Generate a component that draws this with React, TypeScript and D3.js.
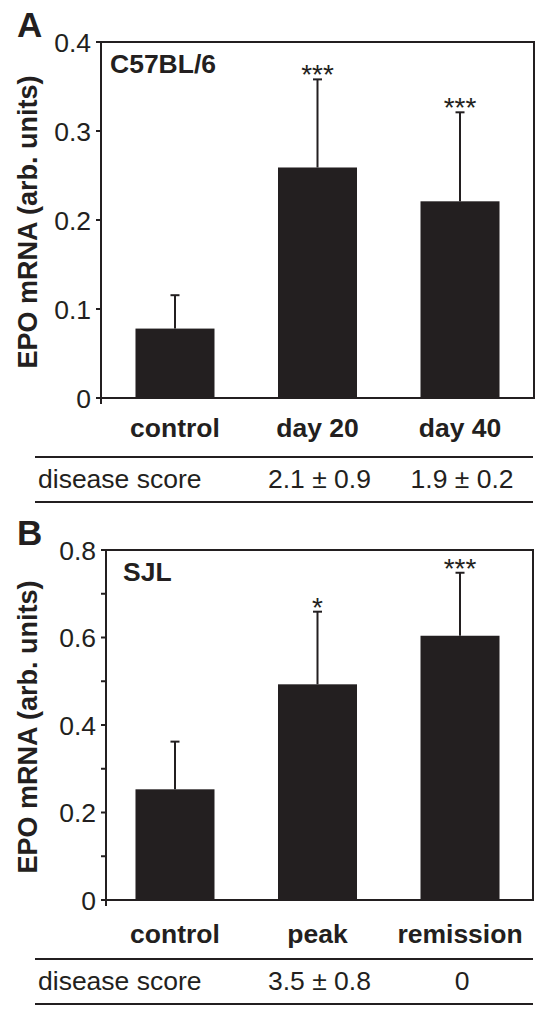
import React from "react";
import * as d3 from "d3";

// ---------- Data ----------
const catsA = ["control", "day 20", "day 40"];
const meansA = [0.078, 0.259, 0.221];
const errsA = [0.0375, 0.099, 0.1];
const sigA = ["", "***", "***"];
const scoresA = ["", "2.1 ± 0.9", "1.9 ± 0.2"];
const ticksA = [0, 0.1, 0.2, 0.3, 0.4];
const tickLabelsA = ["0", "0.1", "0.2", "0.3", "0.4"];
const minorTicksA: number[] = [];

const catsB = ["control", "peak", "remission"];
const meansB = [0.253, 0.493, 0.604];
const errsB = [0.109, 0.166, 0.144];
const sigB = ["", "*", "***"];
const scoresB = ["", "3.5 ± 0.8", "0"];
const ticksB = [0, 0.2, 0.4, 0.6, 0.8];
const tickLabelsB = ["0", "0.2", "0.4", "0.6", "0.8"];
const minorTicksB = [0.1, 0.3, 0.5, 0.7];

const FONT = "'Liberation Sans', Arial, Helvetica, sans-serif";
const INK = "#231f20";

type PanelProps = {
  letter: string;
  strain: string;
  strainX: number;
  cats: string[];
  means: number[];
  errs: number[];
  sig: string[];
  scores: string[];
  ticks: number[];
  tickLabels: string[];
  minor: number[];
  yMax: number;
  top: number;
  bottom: number;
  axisX: number;
  right: number;
  catDy: number;
};

function Panel(p: PanelProps) {
  const y = d3.scaleLinear().domain([0, p.yMax]).range([p.bottom, p.top]);
  const x = d3
    .scaleBand<string>()
    .domain(p.cats)
    .range([101, 534])
    .paddingInner(0.4456)
    .paddingOuter(0.242);
  const bw = x.bandwidth();
  const capW = 9;
  return (
    <g>
      <text x={17} y={p.top - 5} fontFamily={FONT} fontWeight="bold" fontSize={35} fill={INK}>
        {p.letter}
      </text>
      {/* y label */}
      <text
        transform={`translate(37,${(p.top + p.bottom) / 2 + 2}) rotate(-90)`}
        textAnchor="middle"
        fontFamily={FONT}
        fontWeight="bold"
        fontSize={27}
        fill={INK}
      >
        EPO mRNA (arb. units)
      </text>
      {/* bars */}
      {p.cats.map((c, i) => (
        <rect key={c} x={x(c)} y={y(p.means[i])} width={bw} height={y(0) - y(p.means[i])} fill={INK} />
      ))}
      {/* error bars */}
      {p.cats.map((c, i) => {
        const cx = (x(c) as number) + bw / 2;
        const yt = y(p.means[i] + p.errs[i]);
        return (
          <g key={c + "e"} stroke={INK} strokeWidth={2}>
            <line x1={cx} x2={cx} y1={y(p.means[i])} y2={yt} />
            <line x1={cx - capW / 2} x2={cx + capW / 2} y1={yt} y2={yt} />
          </g>
        );
      })}
      {/* significance */}
      {p.cats.map((c, i) =>
        p.sig[i] ? (
          <text
            key={c + "s"}
            x={(x(c) as number) + bw / 2}
            y={y(p.means[i] + p.errs[i]) + 5}
            textAnchor="middle"
            fontFamily={FONT}
            fontSize={28}
            fill={INK}
          >
            {p.sig[i]}
          </text>
        ) : null
      )}
      {/* box */}
      <rect
        x={p.axisX}
        y={p.top}
        width={p.right - p.axisX}
        height={p.bottom - p.top}
        fill="none"
        stroke={INK}
        strokeWidth={2}
      />
      {/* ticks */}
      {p.ticks.map((t, i) => (
        <g key={"t" + i}>
          <line x1={p.axisX - 5} x2={p.axisX} y1={y(t)} y2={y(t)} stroke={INK} strokeWidth={2} />
          <text
            x={p.axisX - 10}
            y={y(t)}
            dy="0.36em"
            textAnchor="end"
            fontFamily={FONT}
            fontSize={26.5}
            fill={INK}
          >
            {p.tickLabels[i]}
          </text>
        </g>
      ))}
      {p.minor.map((t, i) => (
        <line key={"m" + i} x1={p.axisX - 5} x2={p.axisX} y1={y(t)} y2={y(t)} stroke={INK} strokeWidth={2} />
      ))}
      <line x1={p.axisX} x2={p.axisX} y1={p.bottom} y2={p.bottom + 6} stroke={INK} strokeWidth={2} />
      {/* strain label */}
      <text x={p.strainX} y={p.top + 31} fontFamily={FONT} fontWeight="bold" fontSize={26.5} fill={INK}>
        {p.strain}
      </text>
      {/* category labels */}
      {p.cats.map((c) => (
        <text
          key={c + "l"}
          x={(x(c) as number) + bw / 2}
          y={p.bottom + p.catDy}
          textAnchor="middle"
          fontFamily={FONT}
          fontWeight="bold"
          fontSize={26.5}
          fill={INK}
        >
          {c}
        </text>
      ))}
      {/* table */}
      <line x1={35} x2={533} y1={p.bottom + 59} y2={p.bottom + 59} stroke={INK} strokeWidth={2} />
      <line x1={35} x2={533} y1={p.bottom + 104} y2={p.bottom + 104} stroke={INK} strokeWidth={2} />
      <text x={38} y={p.bottom + 90} fontFamily={FONT} fontSize={26.5} fill={INK}>
        disease score
      </text>
      {p.cats.map((c, i) =>
        p.scores[i] ? (
          <text
            key={c + "sc"}
            x={(x(c) as number) + bw / 2 + 2}
            y={p.bottom + 90}
            textAnchor="middle"
            fontFamily={FONT}
            fontSize={26.5}
            fill={INK}
          >
            {p.scores[i]}
          </text>
        ) : null
      )}
    </g>
  );
}

export default function App() {
  return (
    <div style={{ position: "absolute", left: 0, top: 0 }}>
      <svg width={553} height={1024} style={{ display: "block", background: "#fff" }}>
        <Panel
          letter="A"
          strain="C57BL/6"
          strainX={110}
          cats={catsA}
          means={meansA}
          errs={errsA}
          sig={sigA}
          scores={scoresA}
          ticks={ticksA}
          tickLabels={tickLabelsA}
          minor={minorTicksA}
          yMax={0.4}
          top={42}
          bottom={398}
          axisX={101}
          right={534}
          catDy={39}
        />
        <Panel
          letter="B"
          strain="SJL"
          strainX={123}
          cats={catsB}
          means={meansB}
          errs={errsB}
          sig={sigB}
          scores={scoresB}
          ticks={ticksB}
          tickLabels={tickLabelsB}
          minor={minorTicksB}
          yMax={0.8}
          top={550}
          bottom={900}
          axisX={106}
          right={533}
          catDy={43}
        />
      </svg>
    </div>
  );
}
